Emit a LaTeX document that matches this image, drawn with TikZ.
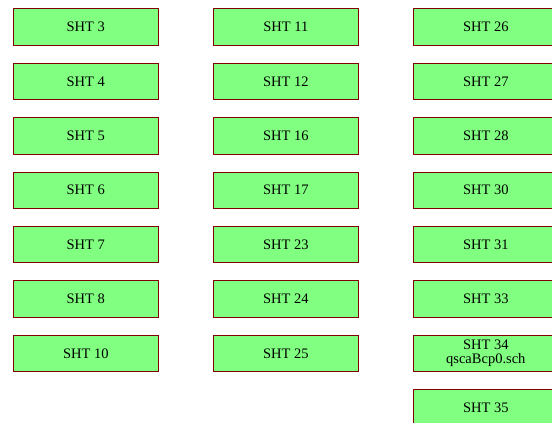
\documentclass[tikz,border=0pt]{standalone}
\usepackage{fontspec}
\setmainfont{Liberation Serif}
\usepackage{tikz}
\usepackage{xcolor}

\definecolor{shtfill}{HTML}{80FF80}
\definecolor{shtline}{HTML}{800000}

\tikzset{
  sheet/.style={draw=shtline, fill=shtfill, line width=1pt, rectangle,
    minimum width=145pt, minimum height=36.4pt, inner sep=0pt, align=center,
    font=\fontsize{14.5}{13.5}\selectfont}
}

\begin{document}
\begin{tikzpicture}[x=1pt,y=-1pt]
\useasboundingbox (0,0) rectangle (552,423);

% First column of sheets
\node[sheet] (sht3)  at (85.8,27)    {SHT 3};
\node[sheet] (sht4)  at (85.8,81.4)  {SHT 4};
\node[sheet] (sht5)  at (85.8,135.8) {SHT 5};
\node[sheet] (sht6)  at (85.8,190.2) {SHT 6};
\node[sheet] (sht7)  at (85.8,244.6) {SHT 7};
\node[sheet] (sht8)  at (85.8,299)   {SHT 8};
\node[sheet] (sht10) at (85.8,353.4) {SHT 10};

% Second column of sheets
\node[sheet] (sht11) at (285.8,27)    {SHT 11};
\node[sheet] (sht12) at (285.8,81.4)  {SHT 12};
\node[sheet] (sht16) at (285.8,135.8) {SHT 16};
\node[sheet] (sht17) at (285.8,190.2) {\raisebox{-2pt}{SHT 17}};
\node[sheet] (sht23) at (285.8,244.6) {\raisebox{-2pt}{SHT 23}};
\node[sheet] (sht24) at (285.8,299)   {\raisebox{-2pt}{SHT 24}};
\node[sheet] (sht25) at (285.8,353.4) {\raisebox{-2pt}{SHT 25}};

% Third column of sheets
\node[sheet] (sht26) at (485.8,27)    {SHT 26};
\node[sheet] (sht27) at (485.8,81.4)  {SHT 27};
\node[sheet] (sht28) at (485.8,135.8) {SHT 28};
\node[sheet] (sht30) at (485.8,190.2) {\raisebox{-2pt}{SHT 30}};
\node[sheet] (sht31) at (485.8,244.6) {\raisebox{-2pt}{SHT 31}};
\node[sheet] (sht33) at (485.8,299)   {\raisebox{-2pt}{SHT 33}};
\node[sheet] (sht34) at (485.8,353.4) {SHT 34\\qscaBcp0.sch};
\node[sheet] (sht35) at (485.8,407.8) {SHT 35};
\end{tikzpicture}
\end{document}
